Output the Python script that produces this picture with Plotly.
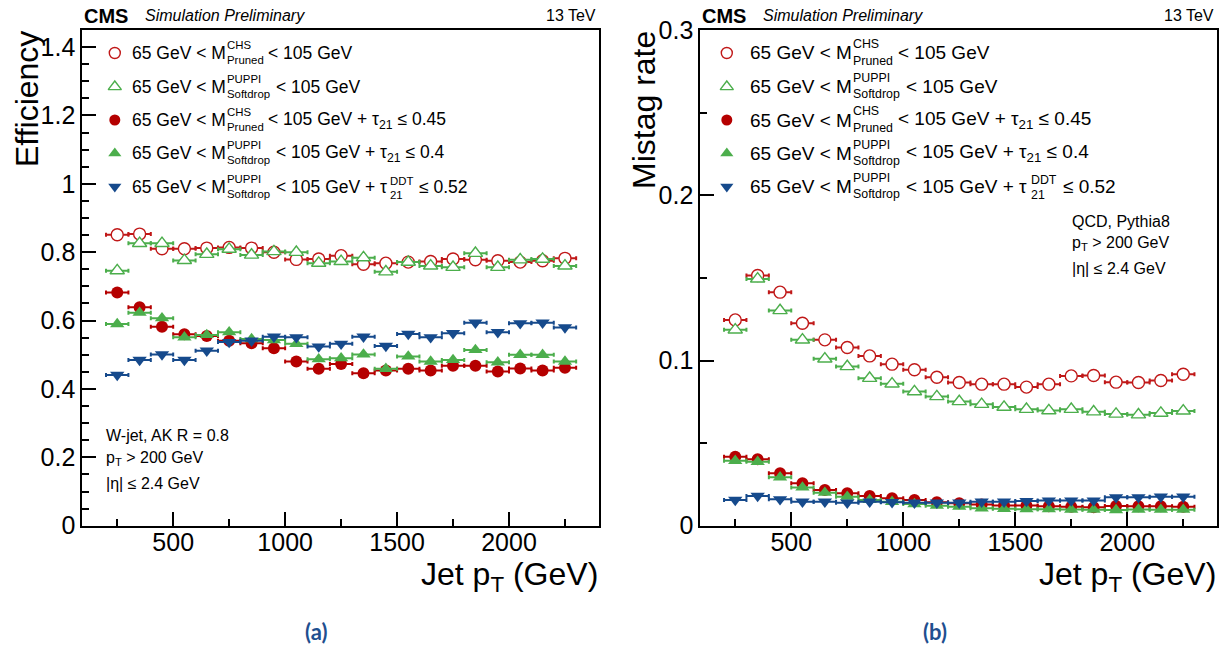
import plotly.graph_objects as go

# ---------------- data ----------------
pt = [250, 350, 450, 550, 650, 750, 850, 950, 1050, 1150, 1250,
      1350, 1450, 1550, 1650, 1750, 1850, 1950, 2050, 2150, 2250]
pt_half_bin = [50] * len(pt)

# (a) W-jet efficiency
eff_pruned = [0.851, 0.853, 0.810, 0.810, 0.812, 0.814, 0.812, 0.800, 0.779, 0.780, 0.790,
              0.765, 0.768, 0.771, 0.773, 0.780, 0.778, 0.775, 0.771, 0.775, 0.782]
eff_softdrop = [0.746, 0.826, 0.826, 0.776, 0.794, 0.809, 0.792, 0.802, 0.800, 0.768, 0.773,
                0.784, 0.743, 0.771, 0.760, 0.756, 0.797, 0.756, 0.778, 0.780, 0.760]
eff_pruned_tau = [0.682, 0.639, 0.582, 0.560, 0.555, 0.541, 0.534, 0.519, 0.480, 0.459, 0.473,
                  0.446, 0.454, 0.459, 0.454, 0.468, 0.468, 0.451, 0.460, 0.454, 0.462]
eff_softdrop_tau = [0.590, 0.623, 0.607, 0.551, 0.558, 0.566, 0.546, 0.543, 0.532, 0.487, 0.490,
                    0.501, 0.459, 0.495, 0.480, 0.485, 0.514, 0.478, 0.500, 0.500, 0.480]
eff_softdrop_ddt = [0.441, 0.485, 0.501, 0.485, 0.512, 0.537, 0.541, 0.553, 0.551, 0.524, 0.532,
                    0.553, 0.526, 0.561, 0.551, 0.563, 0.594, 0.566, 0.592, 0.594, 0.580]

# (b) QCD mistag rate
mis_pruned = [0.1246, 0.1515, 0.1414, 0.1226, 0.1125, 0.1079, 0.1028, 0.0978, 0.0944, 0.0899, 0.0867,
              0.0857, 0.0857, 0.0839, 0.0857, 0.0907, 0.0909, 0.0869, 0.0867, 0.0879, 0.0917]
mis_softdrop = [0.1186, 0.1494, 0.1303, 0.1125, 0.1010, 0.0964, 0.0893, 0.0859, 0.0812, 0.0782, 0.0752,
                0.0735, 0.0718, 0.0705, 0.0697, 0.0705, 0.0690, 0.0676, 0.0672, 0.0682, 0.0695]
mis_pruned_tau = [0.0418, 0.0402, 0.0317, 0.0257, 0.0216, 0.0196, 0.0180, 0.0166, 0.0156, 0.0142, 0.0136,
                  0.0128, 0.0122, 0.0122, 0.0118, 0.0115, 0.0112, 0.0120, 0.0118, 0.0118, 0.0115]
mis_softdrop_tau = [0.0393, 0.0387, 0.0293, 0.0232, 0.0200, 0.0176, 0.0156, 0.0145, 0.0131, 0.0121, 0.0115,
                    0.0105, 0.0102, 0.0100, 0.0100, 0.0098, 0.0097, 0.0095, 0.0098, 0.0097, 0.0097]
mis_softdrop_ddt = [0.0156, 0.0180, 0.0160, 0.0145, 0.0145, 0.0139, 0.0145, 0.0142, 0.0139, 0.0139, 0.0139,
                    0.0145, 0.0145, 0.0149, 0.0152, 0.0152, 0.0152, 0.0172, 0.0172, 0.0176, 0.0176]

x_ticks = [500, 1000, 1500, 2000]

# ---------------- styles ----------------
PAGE_W, PAGE_H = 1232, 646
OFF = 8  # default page body margin
W, H = PAGE_W - OFF, PAGE_H - OFF
FONT = "Liberation Sans, Arial, Helvetica, sans-serif"
RED = "#b50000"
RED_OPEN = "#c01818"
GREEN = "#4cae4c"
BLUE = "#164a8c"

series_style = [
    # (symbol, fill, line color, size)
    ("circle", "white", RED_OPEN, 12),
    ("triangle-up", "white", GREEN, 12.5),
    ("circle", RED, RED, 12),
    ("triangle-up", GREEN, GREEN, 12.5),
    ("triangle-down", BLUE, BLUE, 12.5),
]

def px(x):
    return (x - OFF) / W

def py(y):
    return 1 - (y - OFF) / H

fig = go.Figure()

def add_series(values, style, xa, ya):
    sym, fill, col, size = style
    fig.add_trace(go.Scatter(
        x=pt, y=values, mode="markers", xaxis=xa, yaxis=ya, showlegend=False,
        marker=dict(symbol=sym, size=size, color=fill,
                    line=dict(color=col, width=1.4 if fill == "white" else 0)),
        error_x=dict(type="data", array=pt_half_bin, color=col, thickness=2, width=2),
        hoverinfo="skip"))

for vals, st in zip([eff_pruned, eff_softdrop, eff_pruned_tau, eff_softdrop_tau, eff_softdrop_ddt],
                    series_style):
    add_series(vals, st, "x", "y")
for vals, st in zip([mis_pruned, mis_softdrop, mis_pruned_tau, mis_softdrop_tau, mis_softdrop_ddt],
                    series_style):
    add_series(vals, st, "x2", "y2")

# legend keys in an invisible pixel-coordinate overlay
leg_rows_y = [53, 86.7, 120, 153.3, 186.7]
for key_x in [114.8, 726.8]:
    for yy, st in zip(leg_rows_y, series_style):
        sym, fill, col, size = st
        fig.add_trace(go.Scatter(
            x=[key_x], y=[yy], mode="markers", xaxis="x3", yaxis="y3", showlegend=False,
            marker=dict(symbol=sym, size=size - 1, color=fill,
                        line=dict(color=col, width=1.4 if fill == "white" else 0)),
            hoverinfo="skip"))

ann = []

def text(x, y, t, size, xanchor="left", yanchor="middle", color="black", family=FONT, angle=0):
    ann.append(dict(x=px(x), y=py(y), xref="paper", yref="paper", text=t, showarrow=False,
                    xanchor=xanchor, yanchor=yanchor, textangle=angle,
                    font=dict(size=size, color=color, family=family), borderpad=0))

# legend texts
def legend_block(x0, scale):
    F = 17.5 * scale
    S = 11.4 * scale
    up, dn = -8 * scale, 7 * scale
    rows = [
        ("CHS", "Pruned", [(136, "&lt; 105 GeV")]),
        ("PUPPI", "Softdrop", [(143.6, "&lt; 105 GeV")]),
        ("CHS", "Pruned", [(136, "&lt; 105 GeV + τ<sub>21</sub> ≤ 0.45")]),
        ("PUPPI", "Softdrop", [(143.6, "&lt; 105 GeV + τ<sub>21</sub> ≤ 0.4")]),
        ("PUPPI", "Softdrop", [(143.6, "&lt; 105 GeV + τ"), (287.5, "≤ 0.52")]),
    ]
    for i, (sup, sub, rest) in enumerate(rows):
        yy = leg_rows_y[i]
        text(x0 - 1, yy, "65 GeV &lt; M", F)
        text(x0 + 94.7 * scale - 1, yy + up, sup, S)
        text(x0 + 94.7 * scale - 1, yy + dn, sub, S)
        for off, t in rest:
            text(x0 + off * scale - 1, yy, t, F)
        if i == 4:
            text(x0 + 258.2 * scale - 1, yy - 6 * scale, "DDT", S)
            text(x0 + 258.2 * scale - 1, yy + 8 * scale, "21", S)

legend_block(132, 1.0)
legend_block(750.3, 1.086)

# headers
for fx0, fx1 in [(82.3, 599), (700.3, 1217.3)]:
    text(fx0 + 1, 16, "<b>CMS</b>", 20)
    text(fx0 + 62, 16, "<i>Simulation Preliminary</i>", 16)
    text(fx1 - 2, 16, "13 TeV", 16, xanchor="right")
    text(fx1, 576, "Jet p<sub>T</sub> (GeV)", 32, xanchor="right")

# info boxes
text(104.7, 436, "W-jet, AK R = 0.8", 16)
text(104.7, 458, "p<sub>T</sub> &gt; 200 GeV", 16)
text(104.7, 483.3, "|η| ≤ 2.4 GeV", 16)
text(1070.5, 221, "QCD, Pythia8", 16)
text(1070.5, 243, "p<sub>T</sub> &gt; 200 GeV", 16)
text(1070.5, 268.3, "|η| ≤ 2.4 GeV", 16)

# y titles
text(27, 30, "Efficiency", 32, xanchor="center", yanchor="top", angle=-90)
text(644, 30, "Mistag rate", 32, xanchor="center", yanchor="top", angle=-90)

# panel labels
text(316, 631, "<b>(a)</b>", 22, xanchor="center", color="#1f4f8f", family="Lato, Open Sans, sans-serif")
text(935.4, 631, "<b>(b)</b>", 22, xanchor="center", color="#1f4f8f", family="Lato, Open Sans, sans-serif")

ydom = [py(525.7), py(30)]
common_x = dict(range=[94, 2402], tickvals=x_ticks, ticks="inside", ticklen=14, tickwidth=1.5,
                tickcolor="black", showline=True, linecolor="black", linewidth=2, mirror=True,
                showgrid=False, zeroline=False, automargin=False, ticklabelstandoff=-7,
                tickfont=dict(size=25, family=FONT, color="black"),
                minor=dict(dtick=250, tick0=0, ticks="inside", ticklen=7, tickwidth=1.5, tickcolor="black"))
common_y = dict(ticks="inside", ticklen=14, tickwidth=1.5, tickcolor="black", showline=True,
                linecolor="black", linewidth=2, mirror=True, showgrid=False, zeroline=False,
                automargin=False,
                tickfont=dict(size=25, family=FONT, color="black"))

fig.update_layout(
    width=W, height=H, margin=dict(l=0, r=0, t=0, b=0, autoexpand=False),
    paper_bgcolor="white", plot_bgcolor="rgba(0,0,0,0)",
    showlegend=False,
    xaxis=dict(domain=[px(82.3), px(599)], anchor="y", **common_x),
    yaxis=dict(domain=ydom, anchor="x", range=[0, 1.45], dtick=0.2, tick0=0,
               minor=dict(dtick=0.05, tick0=0, ticks="inside", ticklen=7, tickwidth=1.5, tickcolor="black"),
               **common_y),
    xaxis2=dict(domain=[px(700.3), px(1217.3)], anchor="y2", **common_x),
    yaxis2=dict(domain=ydom, anchor="x2", range=[0, 0.3001], dtick=0.1, tick0=0,
                minor=dict(dtick=0.05, tick0=0, ticks="inside", ticklen=7, tickwidth=1.5, tickcolor="black"),
                **common_y),
    xaxis3=dict(domain=[0, 1], range=[OFF, PAGE_W], visible=False, anchor="y3", fixedrange=True, automargin=False),
    yaxis3=dict(domain=[0, 1], range=[PAGE_H, OFF], visible=False, anchor="x3", fixedrange=True, automargin=False),
    annotations=ann,
)

fig.write_html("out.html")
